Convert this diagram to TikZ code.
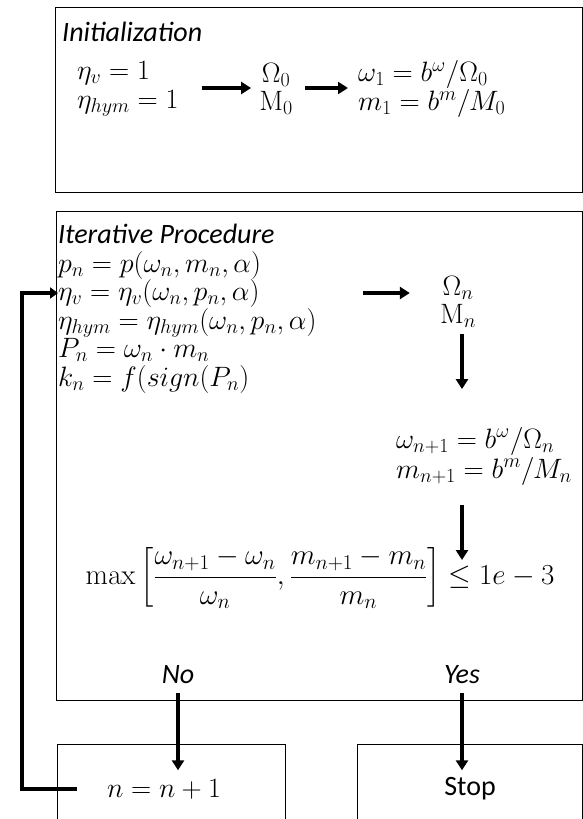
\RequirePackage{fix-cm}
\documentclass[tikz,border=0pt]{standalone}
\usepackage[no-math]{fontspec}
\setmainfont{Carlito}
\usepackage{amsmath}
\DeclareMathSizes{28}{28}{20}{15}
\DeclareMathSizes{29}{29}{21}{16}
\usetikzlibrary{arrows.meta}
\begin{document}
\begin{tikzpicture}[x=1pt,y=-1pt,
  box/.style={draw, line width=1pt, rectangle, inner sep=0, anchor=north west},
  fat/.style={line width=3.5pt, -{Triangle[length=10pt,width=12pt]}},
  ttl/.style={inner sep=0, font=\fontsize{28}{32}\selectfont\itshape},
  mth/.style={inner sep=0, font=\fontsize{28}{28.5}\selectfont, align=left},
  lbl/.style={inner sep=0, font=\fontsize{28}{32}\selectfont}]
\useasboundingbox (0,0) rectangle (583,819);
% boxes
\node[box, minimum width=527pt, minimum height=185pt] (init) at (55,7) {};
\node[box, minimum width=526pt, minimum height=489pt] (iter) at (56,211) {};
\node[box, minimum width=228pt, minimum height=80pt] (nbox) at (57,744) {};
\node[box, minimum width=225pt, minimum height=80pt] (sbox) at (357,744) {};
% initialization
\node[ttl, anchor=west] (tinit) at (62,32) {Initialization};
\node[mth, anchor=west] (a1) at (77,89) {$\eta_v = 1$\\$\eta_{hym} = 1$};
\node[mth, align=center] (a2) at (276,89) {$\Omega_0$\\$\mathrm{M}_0$};
\node[mth, anchor=west] (a3) at (358,89) {$\omega_1 = b^{\omega}/\Omega_0$\\$m_1 = b^{m}/M_0$};
\draw[fat] ([shift={(-57pt,1pt)}]a2.west) -- ([shift={(-8pt,1pt)}]a2.west);
\draw[fat] ([shift={(12pt,1pt)}]a2.east) -- ([shift={(-10pt,1pt)}]a3.west);
% iterative
\node[ttl, anchor=west] (titer) at (58,234) {Iterative Procedure};
\node[mth, anchor=west] (it1) at (58,322) {$p_n = p(\omega_n, m_n, \alpha)$\\
  $\eta_v = \eta_v(\omega_n, p_n, \alpha)$\\
  $\eta_{hym} = \eta_{hym}(\omega_n, p_n, \alpha)$\\
  $P_n = \omega_n \cdot m_n$\\
  $k_n = f(sign(P_n)$};
\node[mth, align=center] (on) at (458,302) {$\Omega_n$\\$\mathrm{M}_n$};
\draw[fat] ([shift={(-77pt,9pt)}]on.west) -- ([shift={(-30pt,9pt)}]on.west);
\node[mth, anchor=east, font=\fontsize{28}{30}\selectfont] (wb) at (572,456) {$\omega_{n+1} = b^{\omega}/\Omega_n$\\$m_{n+1} = b^{m}/M_n$};
\draw[fat] ([shift={(4pt,-6pt)}]on.south) -- ++(0,55);
\node[inner sep=0, font=\fontsize{29}{32}\selectfont] (mx) at (320,578)
  {$\max\left[\dfrac{\omega_{n+1} - \omega_n}{\omega_n}, \dfrac{m_{n+1} - m_n}{m_n}\right] \leq 1e-3$};
\coordinate (d2) at (462,505);
\draw[fat] (d2) -- ++(0,55);
% decisions
\node[ttl] (no) at (178,675) {No};
\node[ttl] (yes) at (462,675) {Yes};
\node[mth] (nn) at (164,789) {$n = n+1$};
\node[lbl] (stop) at (470,789) {Stop};
\draw[fat] ([yshift=-9pt]no.south) -- ++(0,77);
\draw[fat] ([yshift=-9pt]yes.south) -- ++(0,77);
% loop back
\coordinate (loopend) at (58,293);
\draw[line width=4pt, -{Triangle[length=8pt,width=11pt]}] ([xshift=-30pt]nn.west) -| ([xshift=-36pt]loopend) -- (loopend);
\end{tikzpicture}
\end{document}
